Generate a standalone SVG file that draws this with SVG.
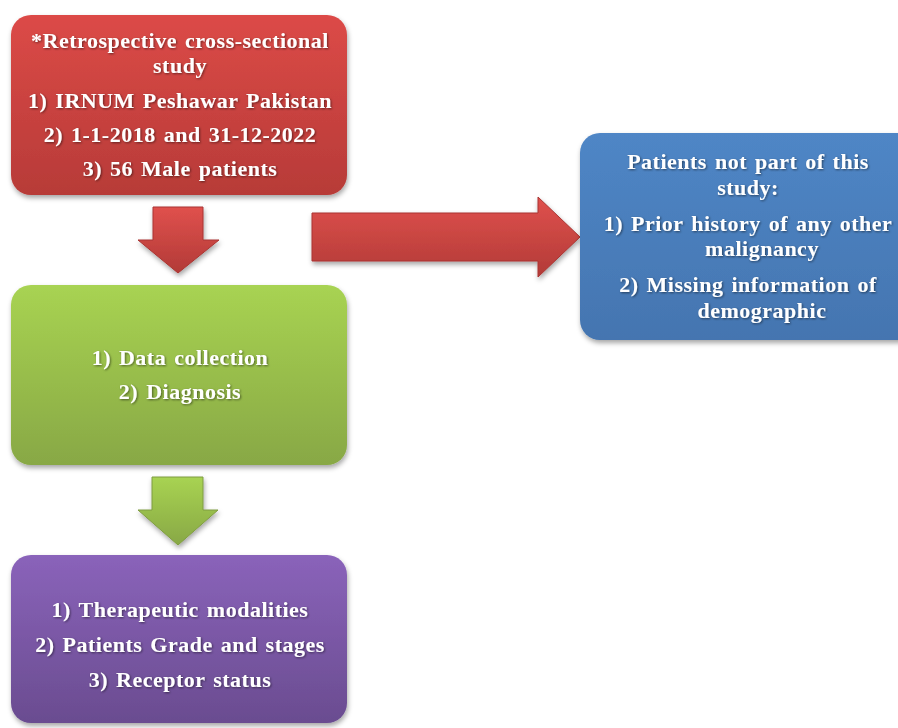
<svg xmlns="http://www.w3.org/2000/svg" width="898" height="728" viewBox="0 0 898 728">
<defs>
<style>
.t{font-family:"Liberation Serif","Times New Roman",serif;font-weight:bold;font-size:22px;fill:#ffffff;text-anchor:middle;letter-spacing:0.5px;word-spacing:2px;filter:url(#ts)}
</style>
<linearGradient id="gRed" x1="0" y1="0" x2="0" y2="1"><stop offset="0" stop-color="#dc4a47"/><stop offset="1" stop-color="#b73b38"/></linearGradient>
<linearGradient id="gRedA" x1="0" y1="0" x2="0" y2="1"><stop offset="0" stop-color="#e0514d"/><stop offset="1" stop-color="#b23a37"/></linearGradient>
<linearGradient id="gGreen" x1="0" y1="0" x2="0" y2="1"><stop offset="0" stop-color="#a8d352"/><stop offset="1" stop-color="#88a845"/></linearGradient>
<linearGradient id="gBlue" x1="0" y1="0" x2="0" y2="1"><stop offset="0" stop-color="#4f86c6"/><stop offset="1" stop-color="#4475b0"/></linearGradient>
<linearGradient id="gPurple" x1="0" y1="0" x2="0" y2="1"><stop offset="0" stop-color="#8a63ba"/><stop offset="1" stop-color="#6a4c90"/></linearGradient>
<filter id="sh" x="-10%" y="-10%" width="120%" height="130%"><feDropShadow dx="1" dy="3" stdDeviation="2.5" flood-color="#000" flood-opacity="0.35"/></filter>
<filter id="ts" x="-5%" y="-20%" width="110%" height="150%"><feDropShadow dx="1" dy="1" stdDeviation="0.8" flood-color="#000" flood-opacity="0.5"/></filter>
</defs>
<g id="connectors">
<path d="M153,207 H203 V240 H219 L178,273 L138,240 H153 Z" fill="url(#gRedA)" stroke="#a93532" stroke-width="1" filter="url(#sh)"/>
<path d="M312,213 H538 V197 L580,237 L538,277 V261 H312 Z" fill="url(#gRedA)" stroke="#a93532" stroke-width="1" filter="url(#sh)"/>
<path d="M152,477 H203 V510 H218 L178,545 L138,510 H152 Z" fill="url(#gGreen)" stroke="#7f9c40" stroke-width="1" filter="url(#sh)"/>
</g>
<g id="node-study">
<rect x="11" y="15" width="336" height="180" rx="20" fill="url(#gRed)" filter="url(#sh)"/>
<text class="t" x="180" y="48">*Retrospective cross-sectional</text>
<text class="t" x="180" y="73">study</text>
<text class="t" x="180" y="108">1) IRNUM Peshawar  Pakistan</text>
<text class="t" x="180" y="142">2) 1-1-2018 and 31-12-2022</text>
<text class="t" x="180" y="176">3) 56 Male patients</text>
</g>
<g id="node-excluded">
<rect x="580" y="133" width="340" height="207" rx="20" fill="url(#gBlue)" filter="url(#sh)"/>
<text class="t" x="748" y="169">Patients not part of this</text>
<text class="t" x="748" y="195">study:</text>
<text class="t" x="748" y="231">1) Prior history of any other</text>
<text class="t" x="762" y="256">malignancy</text>
<text class="t" x="748" y="292">2) Missing information of</text>
<text class="t" x="762" y="318">demographic</text>
</g>
<g id="node-data">
<rect x="11" y="285" width="336" height="180" rx="20" fill="url(#gGreen)" filter="url(#sh)"/>
<text class="t" x="180" y="365">1) Data collection</text>
<text class="t" x="180" y="399">2) Diagnosis</text>
</g>
<g id="node-outcomes">
<rect x="11" y="555" width="336" height="168" rx="20" fill="url(#gPurple)" filter="url(#sh)"/>
<text class="t" x="180" y="617">1) Therapeutic modalities</text>
<text class="t" x="180" y="652">2) Patients Grade and stages</text>
<text class="t" x="180" y="687">3) Receptor status</text>
</g>
</svg>
